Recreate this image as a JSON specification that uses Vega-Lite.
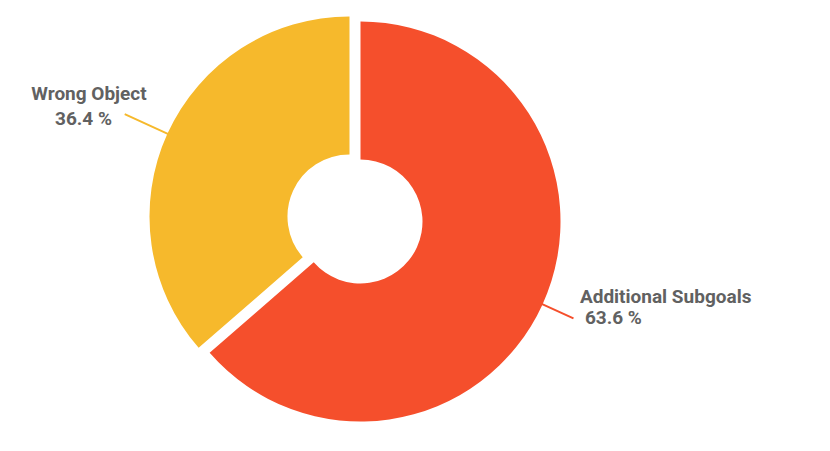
{
  "$schema": "https://vega.github.io/schema/vega-lite/v6.json",
  "autosize": "none",
  "width": 710,
  "height": 438,
  "padding": {"left": 0, "top": 0, "right": 120, "bottom": 13},
  "background": "white",
  "config": {"view": {"stroke": null}},
  "data": {"values": [
    {"category": "Additional Subgoals", "value": 63.6},
    {"category": "Wrong Object", "value": 36.4}
  ]},
  "transform": [
    {"stack": "value", "groupby": [], "sort": [{"field": "category", "order": "ascending"}], "as": ["v0", "v1"]},
    {"calculate": "(datum.v0 + datum.v1) / 2", "as": "mid"},
    {"calculate": "format(datum.value, '.1f') + ' %'", "as": "pct"}
  ],
  "layer": [
    {
      "transform": [{"filter": "datum.category === 'Additional Subgoals'"}],
      "mark": {"type": "arc", "innerRadius": 62, "outerRadius": 200, "xOffset": 5.5, "yOffset": 2.5, "color": "#F54F2C"},
      "encoding": {
        "theta": {"field": "v0", "type": "quantitative", "scale": {"domain": [0, 100]}},
        "theta2": {"field": "v1"}
      }
    },
    {
      "transform": [{"filter": "datum.category === 'Wrong Object'"}],
      "mark": {"type": "arc", "innerRadius": 62, "outerRadius": 200, "xOffset": -5.5, "yOffset": -2.5, "color": "#F6B92C"},
      "encoding": {
        "theta": {"field": "v0", "type": "quantitative", "scale": {"domain": [0, 100]}},
        "theta2": {"field": "v1"}
      }
    },
    {
      "transform": [{"filter": "datum.category === 'Additional Subgoals'"}],
      "mark": {"type": "arc", "innerRadius": 199, "outerRadius": 234, "xOffset": 5.5, "yOffset": 2.5, "filled": false, "stroke": "#F54F2C", "strokeWidth": 2},
      "encoding": {
        "theta": {"field": "mid", "type": "quantitative", "scale": {"domain": [0, 100]}},
        "theta2": {"field": "mid"}
      }
    },
    {
      "transform": [{"filter": "datum.category === 'Wrong Object'"}],
      "mark": {"type": "arc", "innerRadius": 199, "outerRadius": 247, "xOffset": -5.5, "yOffset": -2.5, "filled": false, "stroke": "#F6B92C", "strokeWidth": 2},
      "encoding": {
        "theta": {"field": "mid", "type": "quantitative", "scale": {"domain": [0, 100]}},
        "theta2": {"field": "mid"}
      }
    },
    {
      "transform": [{"filter": "datum.category === 'Additional Subgoals'"}],
      "mark": {"type": "text", "radius": 240, "xOffset": 5.5, "yOffset": 2.5, "dx": 1, "dy": -18, "align": "left", "baseline": "alphabetic", "font": "Roboto", "fontWeight": "bold", "fontSize": 19, "color": "#616161"},
      "encoding": {
        "theta": {"field": "mid", "type": "quantitative", "stack": false, "scale": {"domain": [0, 100]}},
        "text": {"field": "category"}
      }
    },
    {
      "transform": [{"filter": "datum.category === 'Additional Subgoals'"}],
      "mark": {"type": "text", "radius": 240, "xOffset": 5.5, "yOffset": 2.5, "dx": 6, "dy": 3, "align": "left", "baseline": "alphabetic", "font": "Roboto", "fontWeight": "bold", "fontSize": 19, "color": "#616161"},
      "encoding": {
        "theta": {"field": "mid", "type": "quantitative", "stack": false, "scale": {"domain": [0, 100]}},
        "text": {"field": "pct"}
      }
    },
    {
      "transform": [{"filter": "datum.category === 'Wrong Object'"}],
      "mark": {"type": "text", "radius": 290, "xOffset": -5.5, "yOffset": -2.5, "dx": 3.4, "dy": 3.9, "align": "center", "baseline": "alphabetic", "font": "Roboto", "fontWeight": "bold", "fontSize": 19, "color": "#616161"},
      "encoding": {
        "theta": {"field": "mid", "type": "quantitative", "stack": false, "scale": {"domain": [0, 100]}},
        "text": {"field": "category"}
      }
    },
    {
      "transform": [{"filter": "datum.category === 'Wrong Object'"}],
      "mark": {"type": "text", "radius": 290, "xOffset": -5.5, "yOffset": -2.5, "dx": -2.1, "dy": 28.9, "align": "center", "baseline": "alphabetic", "font": "Roboto", "fontWeight": "bold", "fontSize": 19, "color": "#616161"},
      "encoding": {
        "theta": {"field": "mid", "type": "quantitative", "stack": false, "scale": {"domain": [0, 100]}},
        "text": {"field": "pct"}
      }
    }
  ]
}
